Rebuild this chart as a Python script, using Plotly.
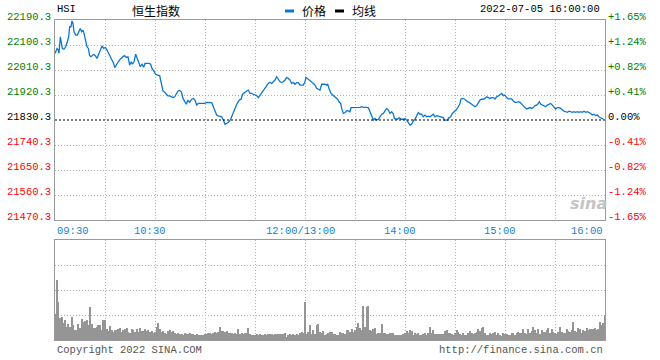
import plotly.graph_objects as go

# ---------------- data ----------------
TITLE_CODE = "HSI"
TITLE_NAME = "恒生指数"
DATETIME = "2022-07-05 16:00:00"
PRE_CLOSE = 21830.3

# minutes since 09:30 (lunch break removed: 12:00 and 13:00 share minute 150)
PRICE_MIN = [0, 1.2, 2, 2.4, 3.2, 3.8, 4.4, 5.4, 6.4, 7.4, 8.2, 8.8, 9.6, 10.2, 10.8, 11.4, 12.4, 13.4, 14.4, 15.2,
             16, 16.8, 17.4, 18.2, 19.2, 20, 20.8, 21.6, 22.4, 23.2, 24.2, 25.2, 26.2, 27.2, 28.2, 29.2, 30.2, 31.2,
             32.2, 33.2, 34.2, 35.2, 35.8, 36.8, 38, 39.2, 40.4, 41.6, 42.8, 43.8, 44.8, 45.8, 46.4, 47.4, 48.4, 49.2,
             50.2, 51.2, 52.2, 53.2, 54, 55.2, 56.4, 57.4, 58.2, 59.2, 60.4, 61.6, 62.8, 63.8, 64.8, 65.8, 66.8, 67.8,
             68.8, 69.8, 70.8, 71.8, 72.8, 73.8, 74.8, 75.8, 76.8, 77.8, 78.8, 79.8, 80.8, 82, 83, 84, 85, 86, 88, 90,
             91, 93, 94, 95, 96, 97, 98, 100, 101, 102, 103, 104.4, 105.4, 106.6, 107.6, 108.6, 109.6, 110.6, 111.6,
             112.6, 114, 115, 116, 117, 118, 119, 120, 121, 122, 123, 124, 125, 126, 127, 128, 129, 130, 131, 132, 133,
             134, 135, 136, 137, 138, 139, 140, 141, 142, 143, 144, 145, 146, 147, 149, 150, 150.6, 152, 153, 154, 155,
             156, 157, 158, 159, 160, 161, 162, 163, 163.6, 164.4, 165.6, 166.6, 167.6, 168.6, 169.6, 170.4, 171.4,
             172, 173, 174, 175, 176, 177, 177.6, 179, 181, 183, 184, 185, 187, 188, 189, 190, 191, 192, 193, 194, 195,
             196, 197, 198, 199, 200, 201, 202, 203, 203.6, 204.6, 205.6, 206.6, 207.6, 209, 210, 211, 212, 213, 214,
             215, 216, 217, 218, 219, 220, 221, 222, 223, 224, 225, 226, 227, 228, 229, 230, 231, 232, 233, 233.6,
             234.6, 235.4, 236.4, 237.4, 238.4, 239.6, 240.6, 242, 243, 243.6, 244.6, 245.6, 246.6, 247.6, 248.6,
             249.6, 250.6, 252, 253, 254, 255, 256, 257, 258, 259, 260, 261, 262, 263, 264, 265, 266, 267, 268, 269,
             270, 271, 272, 273, 274, 275, 276, 277, 278, 279, 280, 281, 282, 283, 284, 285, 286, 287, 288, 289, 290,
             290.6, 291.4, 292.4, 293.4, 294.4, 295.4, 296.4, 297.4, 298.4, 299.4, 300.4, 301.4, 302.4, 303.4, 304.4,
             305.4, 306.4, 307.4, 308.4, 309.4, 310.4, 311.4, 312.4, 313.4, 314.4, 315.4, 316.4, 317.4, 318.4, 319.4,
             320.4, 321.4, 322.4, 323.4, 324.4, 325.4, 326.4, 327, 328, 329]
PRICE = [22070, 22088, 22082, 22070, 22130, 22112, 22088, 22085, 22094, 22112, 22130, 22166, 22166, 22187, 22178,
         22148, 22136, 22136, 22148, 22160, 22148, 22154, 22142, 22118, 22094, 22088, 22062, 22058, 22064, 22067,
         22062, 22052, 22067, 22082, 22097, 22088, 22092, 22082, 22070, 22058, 22052, 22034, 22019, 22031, 22040,
         22050, 22058, 22062, 22056, 22058, 22028, 22040, 22031, 22040, 22067, 22052, 22037, 22022, 22031, 22020,
         22034, 22034, 22034, 22031, 22016, 22007, 21995, 21992, 21990, 21962, 21935, 21930, 21923, 21917, 21917,
         21914, 21911, 21914, 21926, 21935, 21937, 21932, 21908, 21899, 21887, 21902, 21894, 21905, 21908, 21902,
         21884, 21890, 21890, 21890, 21894, 21894, 21893, 21878, 21866, 21848, 21845, 21842, 21830, 21815, 21818,
         21824, 21833, 21854, 21866, 21881, 21893, 21902, 21905, 21923, 21930, 21935, 21938, 21926, 21926, 21923,
         21920, 21918, 21911, 21920, 21930, 21938, 21947, 21954, 21962, 21966, 21962, 21968, 21974, 21986, 21978,
         21968, 21966, 21968, 21974, 21984, 21980, 21974, 21962, 21965, 21959, 21965, 21965, 21956, 21956, 21968,
         21984, 21978, 21972, 21968, 21962, 21956, 21944, 21941, 21938, 21959, 21959, 21959, 21956, 21960, 21944,
         21926, 21920, 21914, 21911, 21905, 21896, 21890, 21872, 21854, 21857, 21864, 21863, 21860, 21875, 21875,
         21876, 21876, 21878, 21876, 21876, 21875, 21860, 21842, 21830, 21836, 21830, 21833, 21842, 21851, 21854,
         21862, 21872, 21866, 21854, 21860, 21852, 21836, 21833, 21833, 21839, 21833, 21833, 21836, 21830, 21821,
         21812, 21816, 21828, 21833, 21845, 21857, 21851, 21851, 21842, 21848, 21842, 21844, 21842, 21848, 21851,
         21842, 21846, 21844, 21842, 21842, 21839, 21830, 21830, 21830, 21839, 21842, 21854, 21860, 21866, 21878,
         21890, 21906, 21908, 21906, 21899, 21896, 21893, 21888, 21884, 21878, 21882, 21890, 21902, 21905, 21905,
         21908, 21914, 21911, 21908, 21911, 21911, 21906, 21914, 21917, 21920, 21926, 21918, 21920, 21911, 21906,
         21906, 21906, 21899, 21894, 21894, 21896, 21894, 21887, 21878, 21875, 21870, 21872, 21875, 21872, 21875,
         21882, 21884, 21890, 21896, 21888, 21884, 21882, 21878, 21884, 21887, 21890, 21884, 21878, 21870, 21875,
         21875, 21872, 21866, 21862, 21860, 21858, 21862, 21860, 21858, 21860, 21858, 21860, 21858, 21860, 21858,
         21862, 21858, 21860, 21858, 21854, 21848, 21851, 21846, 21848, 21842, 21840, 21834, 21833]

# per-minute volume (relative units, minute 0..330)
VOLUME = [26, 60, 38, 22, 23, 17, 20, 13, 16, 13,
          23, 15, 10, 10, 16, 12, 21, 18, 19, 20,
          15, 33, 16, 12, 12, 13, 15, 15, 10, 20,
          20, 11, 9, 14, 10, 8, 10, 10, 11, 12,
          8, 10, 11, 12, 8, 7, 11, 10, 8, 11,
          8, 12, 9, 9, 11, 9, 10, 8, 9, 7,
          8, 13, 17, 11, 8, 9, 7, 6, 9, 10,
          8, 9, 7, 6, 7, 6, 6, 5, 7, 6,
          6, 7, 6, 6, 5, 6, 5, 5, 5, 5,
          6, 6, 7, 7, 6, 7, 8, 7, 8, 13,
          9, 9, 8, 9, 7, 7, 7, 6, 7, 6,
          11, 6, 7, 6, 7, 7, 12, 6, 5, 5,
          5, 6, 5, 6, 5, 5, 6, 5, 6, 6,
          6, 5, 6, 6, 6, 6, 6, 6, 7, 3,
          5, 6, 5, 6, 5, 6, 5, 7, 8, 7,
          38, 6, 8, 15, 6, 10, 6, 15, 16, 8,
          7, 9, 5, 6, 7, 8, 8, 6, 6, 5,
          5, 8, 7, 7, 6, 10, 10, 8, 11, 8,
          10, 13, 17, 12, 10, 34, 13, 33, 34, 10,
          9, 11, 12, 6, 7, 7, 16, 7, 7, 6,
          6, 7, 7, 7, 5, 5, 5, 5, 5, 6,
          7, 9, 7, 10, 9, 5, 7, 6, 7, 5,
          5, 6, 7, 5, 7, 13, 7, 10, 6, 6,
          6, 6, 6, 6, 9, 10, 7, 7, 6, 5,
          7, 10, 8, 6, 5, 7, 5, 5, 7, 9,
          7, 6, 7, 8, 11, 9, 12, 13, 7, 5,
          5, 7, 6, 7, 8, 5, 7, 5, 4, 7,
          6, 6, 5, 5, 7, 7, 5, 7, 8, 7,
          7, 11, 7, 6, 11, 7, 9, 13, 10, 7,
          11, 6, 10, 8, 8, 10, 12, 7, 11, 8,
          7, 6, 8, 13, 8, 7, 7, 11, 9, 8,
          10, 18, 9, 8, 12, 11, 7, 10, 9, 12,
          10, 11, 11, 11, 12, 10, 11, 18, 15, 17, 25]
VOL_MIN = list(range(len(VOLUME)))

Y_TICKS = [22190.3, 22100.3, 22010.3, 21920.3, 21830.3, 21740.3, 21650.3, 21560.3, 21470.3]
PCT_LABELS = ["+1.65%", "+1.24%", "+0.82%", "+0.41%", "0.00%", "-0.41%", "-0.82%", "-1.24%", "-1.65%"]
X_GRID = [0, 30, 60, 90, 120, 150, 180, 210, 240, 270, 300, 330]
X_TICK_POS = [0, 60, 150, 210, 270, 330]
X_TICK_LABELS = ["09:30", "10:30", "12:00/13:00", "14:00", "15:00", "16:00"]
LEGEND_NAMES = ["价格", "均线"]
COPYRIGHT = "Copyright 2022 SINA.COM"
URL = "http://finance.sina.com.cn"

# ---------------- style ----------------
W, H = 660, 360
ML, MR, MT, MB = 55, 55, 20, 20
PLOT_H = H - MT - MB
PLOT_W = W - ML - MR
BLUE = "#0a78d2"
GRID = "#b4b4b4"
FRAME = "#9a9a9a"
MONO = "Liberation Mono, DejaVu Sans Mono, monospace"
MS = 10.5
CJK = "Noto Sans CJK SC, sans-serif"


def py(pix):  # pixel y -> paper y
    return (H - MB - pix) / PLOT_H


def px(pix):  # pixel x -> paper x
    return (pix - ML) / PLOT_W


fig = go.Figure()
fig.add_trace(go.Scatter(x=PRICE_MIN, y=PRICE, mode="lines", line=dict(color=BLUE, width=1.3),
                         xaxis="x", yaxis="y", hoverinfo="skip", showlegend=False))
fig.add_trace(go.Bar(x=VOL_MIN, y=VOLUME, width=0.7, marker=dict(color="#959595", line=dict(width=0)),
                     xaxis="x2", yaxis="y2", hoverinfo="skip", showlegend=False))

axis_common = dict(showgrid=True, gridcolor=GRID, griddash="1px,2px", gridwidth=1, zeroline=False,
                   showline=True, linecolor=FRAME, linewidth=1, mirror=True, ticks="", showticklabels=False)

fig.update_layout(
    width=W, height=H, margin=dict(l=ML, r=MR, t=MT, b=MB),
    paper_bgcolor="white", plot_bgcolor="white",
    xaxis=dict(domain=[0, 1], range=[0, 330], anchor="y", tickvals=X_GRID, **axis_common),
    yaxis=dict(domain=[py(220), 1], range=[Y_TICKS[-1], Y_TICKS[0]], anchor="x",
               tickvals=[v for v in Y_TICKS if v != PRE_CLOSE], **axis_common),
    xaxis2=dict(domain=[0, 1], range=[0, 330], anchor="y2", tickvals=X_GRID, **axis_common),
    yaxis2=dict(domain=[0, py(240)], range=[0, 100], anchor="x2", tickvals=[25, 50, 75], **axis_common),
    bargap=0,
)

# pre-close reference line
fig.add_shape(type="line", xref="x", yref="y", x0=0, x1=330, y0=PRE_CLOSE, y1=PRE_CLOSE,
              line=dict(color="black", width=1, dash="2px,2px"))

ann = []
for v, pct in zip(Y_TICKS, PCT_LABELS):
    if v > PRE_CLOSE:
        col = "#008000"
    elif v < PRE_CLOSE:
        col = "#ff0000"
    else:
        col = "#000000"
    ann.append(dict(xref="paper", yref="y", x=0, y=v, text=f"{v:.1f}", xanchor="right", yanchor="middle",
                    xshift=-2, yshift=3, showarrow=False, font=dict(family=MONO, size=MS, color=col)))
    ann.append(dict(xref="paper", yref="y", x=1, y=v, text=pct, xanchor="left", yanchor="middle",
                    xshift=1, yshift=3, showarrow=False, font=dict(family=MONO, size=MS, color=col)))

for pos, lab in zip(X_TICK_POS, X_TICK_LABELS):
    if pos == X_TICK_POS[0]:
        xa, sh = "left", 0
    elif pos == X_TICK_POS[-1]:
        xa, sh = "right", 0
    else:
        xa, sh = "center", -5
    ann.append(dict(xref="x", yref="paper", x=pos, y=py(231), text=lab, xanchor=xa, yanchor="middle",
                    xshift=sh, showarrow=False, font=dict(family=MONO, size=MS, color="#1a7fd0")))

ann.append(dict(xref="paper", yref="paper", x=px(55), y=py(9), text=TITLE_CODE, xanchor="left", yanchor="middle",
                showarrow=False, font=dict(family=MONO, size=MS, color="#000")))
ann.append(dict(xref="paper", yref="paper", x=px(130), y=py(10), text=TITLE_NAME, xanchor="left", yanchor="middle",
                showarrow=False, font=dict(family=CJK, size=12, color="#000")))
# legend
fig.add_shape(type="line", xref="paper", yref="paper", x0=px(285), x1=px(294), y0=py(11), y1=py(11),
              line=dict(color=BLUE, width=3))
fig.add_shape(type="line", xref="paper", yref="paper", x0=px(335), x1=px(344), y0=py(11), y1=py(11),
              line=dict(color="#000", width=3))
ann.append(dict(xref="paper", yref="paper", x=px(300), y=py(10), text=LEGEND_NAMES[0], xanchor="left",
                yanchor="middle", showarrow=False, font=dict(family=CJK, size=12, color="#000")))
ann.append(dict(xref="paper", yref="paper", x=px(350), y=py(10), text=LEGEND_NAMES[1], xanchor="left",
                yanchor="middle", showarrow=False, font=dict(family=CJK, size=12, color="#000")))
ann.append(dict(xref="paper", yref="paper", x=px(602), y=py(9), text=DATETIME, xanchor="right", yanchor="middle",
                showarrow=False, font=dict(family=MONO, size=MS, color="#000")))
ann.append(dict(xref="paper", yref="paper", x=px(55), y=py(350), text=COPYRIGHT, xanchor="left", yanchor="middle",
                showarrow=False, font=dict(family=MONO, size=MS, color="#555")))
ann.append(dict(xref="paper", yref="paper", x=px(605), y=py(350), text=URL, xanchor="right", yanchor="middle",
                showarrow=False, font=dict(family=MONO, size=MS, color="#555")))
# watermark
ann.append(dict(xref="paper", yref="paper", x=px(588), y=py(203), text="<i><b>sina</b></i>", xanchor="center",
                yanchor="middle", showarrow=False, font=dict(family="DejaVu Sans", size=16, color="#c4c4c4")))

fig.update_layout(annotations=ann)
fig.write_html("out.html", config={"displayModeBar": False},
               post_script="document.body.style.margin='0';")
